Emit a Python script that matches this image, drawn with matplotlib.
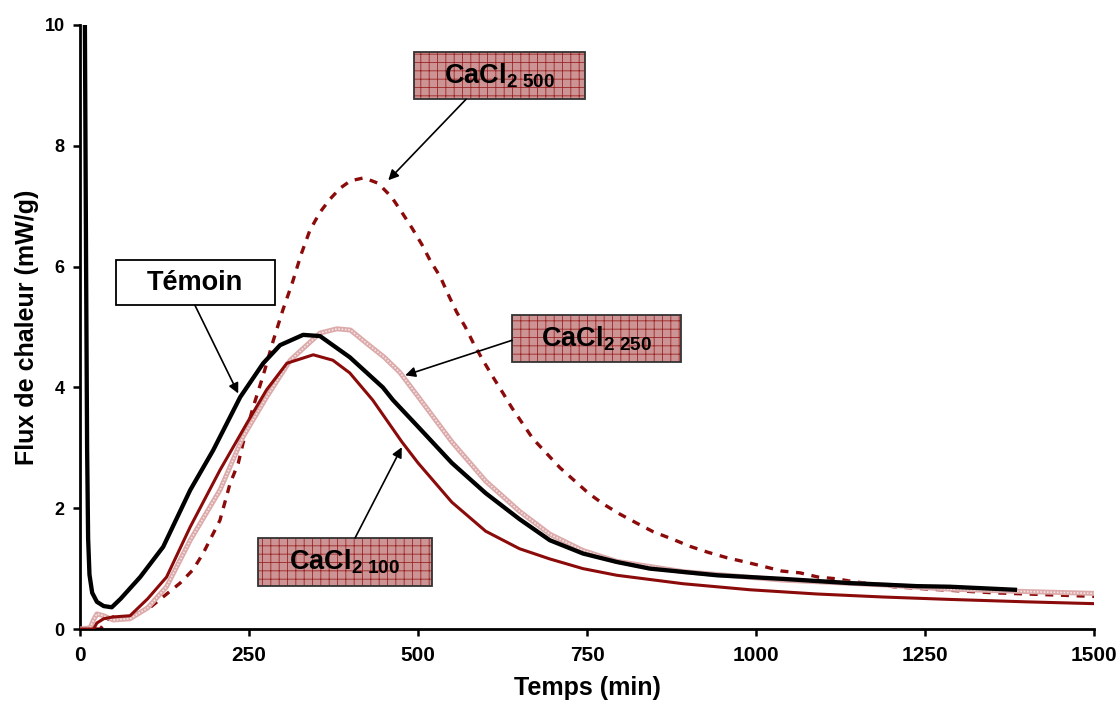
import matplotlib
matplotlib.use('Agg')
import matplotlib.pyplot as plt
from matplotlib.patches import Rectangle

plt.rcParams['font.family'] = ['Liberation Sans', 'DejaVu Sans']
plt.rcParams['font.weight'] = 'bold'
plt.rcParams['mathtext.fontset'] = 'custom'
plt.rcParams['mathtext.rm'] = 'Liberation Sans:bold'
plt.rcParams['mathtext.it'] = 'Liberation Sans:bold'
plt.rcParams['mathtext.bf'] = 'Liberation Sans:bold'
plt.rcParams['mathtext.default'] = 'rm'
plt.rcParams['hatch.linewidth'] = 0.6

# Témoin (reference)
temoin_t = [7, 9, 10.5, 12, 14, 18, 25, 35, 47, 60, 89, 123, 163, 197, 237, 271,
            296, 330, 355, 399, 448, 463, 500, 550, 600, 650, 695, 744, 794, 843,
            942, 1040, 1139, 1238, 1287, 1383]
temoin_q = [10.5, 6.0, 3.0, 1.5, 0.9, 0.6, 0.45, 0.38, 0.36, 0.5, 0.86, 1.36, 2.3,
            2.96, 3.84, 4.4, 4.7, 4.87, 4.85, 4.5, 4.0, 3.79, 3.35, 2.75, 2.25,
            1.82, 1.47, 1.25, 1.11, 1.0, 0.89, 0.83, 0.76, 0.71, 0.7, 0.65]

# CaCl2 100
c100_t = [0, 20, 25, 35, 49, 74, 100, 128, 163, 207, 247, 276, 306, 345, 374, 399,
          433, 476, 500, 550, 600, 650, 695, 744, 794, 892, 991, 1090, 1188, 1287,
          1400, 1500]
c100_q = [0, 0, 0.1, 0.17, 0.2, 0.22, 0.5, 0.86, 1.69, 2.63, 3.41, 3.96, 4.4, 4.54,
          4.45, 4.24, 3.79, 3.1, 2.75, 2.1, 1.62, 1.33, 1.16, 1.0, 0.89, 0.75, 0.65,
          0.58, 0.53, 0.49, 0.45, 0.42]

# CaCl2 250
c250_t = [0, 15, 20, 25, 35, 49, 74, 100, 128, 163, 207, 241, 276, 311, 355, 380,
          400, 424, 450, 473, 500, 550, 600, 650, 695, 744, 794, 892, 1040, 1188,
          1287, 1400, 1500]
c250_q = [0, 0.02, 0.15, 0.25, 0.22, 0.15, 0.17, 0.35, 0.7, 1.47, 2.3, 3.18, 3.84,
          4.45, 4.9, 4.97, 4.95, 4.73, 4.5, 4.25, 3.85, 3.1, 2.45, 1.95, 1.57, 1.3,
          1.12, 0.95, 0.81, 0.73, 0.66, 0.62, 0.59]

# CaCl2 500
c500_t = [0, 30, 40, 49, 74, 104, 148, 167, 182, 207, 222, 234, 241, 256, 271, 286,
          300, 314, 327, 340, 355, 370, 385, 400, 420, 441, 461, 476, 491, 506, 518,
          533, 545, 557, 570, 582, 596, 611, 626, 639, 670, 710, 730, 752, 774, 799,
          824, 848, 876, 902, 929, 957, 984, 1010, 1038, 1065, 1092, 1120, 1146, 1173,
          1203, 1231, 1257, 1350, 1500]
c500_q = [0, 0, 0.15, 0.2, 0.2, 0.36, 0.76, 0.98, 1.25, 1.8, 2.41, 2.74, 3.07, 3.67,
          4.2, 4.78, 5.28, 5.73, 6.2, 6.6, 6.9, 7.12, 7.3, 7.42, 7.47, 7.38, 7.15,
          6.9, 6.64, 6.36, 6.1, 5.83, 5.53, 5.25, 5.0, 4.73, 4.45, 4.17, 3.9, 3.66,
          3.15, 2.67, 2.47, 2.25, 2.07, 1.9, 1.75, 1.61, 1.49, 1.37, 1.27, 1.18, 1.11,
          1.04, 0.96, 0.93, 0.86, 0.83, 0.78, 0.75, 0.7, 0.68, 0.66, 0.6, 0.54]

dark_red = '#8b0a0a'

fig = plt.figure(figsize=(11.19, 7.04), dpi=100)
ax = fig.add_axes([0.0715, 0.1065, 0.9062, 0.858])

ax.plot(c500_t, c500_q, color=dark_red, lw=2.4, dashes=(2.4, 2.3), zorder=2)
ax.plot(c250_t, c250_q, color='#dcaaaa', lw=3.6, zorder=3)
ax.plot(c250_t, c250_q, color='#f5e4e4', lw=1.2, ls=(0, (1, 1)), zorder=3)
ax.plot(c100_t, c100_q, color=dark_red, lw=2.2, zorder=4)
ax.plot(temoin_t, temoin_q, color='black', lw=3.1, zorder=5)

ax.set_xlim(0, 1500)
ax.set_ylim(0, 10)
ax.set_xticks([0, 250, 500, 750, 1000, 1250, 1500])
ax.set_yticks([0, 2, 4, 6, 8, 10])
for s in ['top', 'right']:
    ax.spines[s].set_visible(False)
for s in ['left', 'bottom']:
    ax.spines[s].set_linewidth(2.0)
ax.tick_params(axis='both', direction='out', length=5, width=1.8)
ax.tick_params(axis='y', labelsize=13, pad=6)
ax.tick_params(axis='x', labelsize=15, pad=7)
ax.set_xlabel('Temps (min)', fontsize=18, fontweight='bold', labelpad=8)
ax.set_ylabel('Flux de chaleur (mW/g)', fontsize=18, fontweight='bold', labelpad=4)

# label boxes: (x0, y0, x1, y1) in data units, text, hatched?
boxes = [
    ((494, 8.77, 747, 9.55), r'CaCl$_{2\ 500}$', True),
    ((53, 5.36, 288, 6.11), 'Témoin', False),
    ((639, 4.42, 889, 5.2), r'CaCl$_{2\ 250}$', True),
    ((263, 0.71, 521, 1.51), r'CaCl$_{2\ 100}$', True),
]
for (x0, y0, x1, y1), label, hatched in boxes:
    if hatched:
        ax.add_patch(Rectangle((x0, y0), x1 - x0, y1 - y0, facecolor='#cc9494',
                               edgecolor='#9b2424', hatch='++', lw=0, zorder=6,
                               clip_on=False))
        ax.add_patch(Rectangle((x0, y0), x1 - x0, y1 - y0, fill=False,
                               edgecolor='#333333', lw=1.3, zorder=7, clip_on=False))
    else:
        ax.add_patch(Rectangle((x0, y0), x1 - x0, y1 - y0, facecolor='white',
                               edgecolor='black', lw=1.3, zorder=7, clip_on=False))
    ax.text((x0 + x1) / 2, (y0 + y1) / 2, label, fontsize=19.5, fontweight='bold',
            ha='center', va='center', zorder=8)

# arrows: start (box edge) -> tip (curve)
arrows = [((571, 8.77), (456, 7.43)),
          ((170, 5.36), (234, 3.9)),
          ((639, 4.78), (481, 4.2)),
          ((407, 1.51), (476, 3.01))]
for start, tip in arrows:
    ax.annotate('', xy=tip, xytext=start,
                arrowprops=dict(arrowstyle='-|>', color='black', lw=1.2,
                                mutation_scale=15, shrinkA=0, shrinkB=0),
                zorder=8)

plt.savefig('out.png', dpi=100)
